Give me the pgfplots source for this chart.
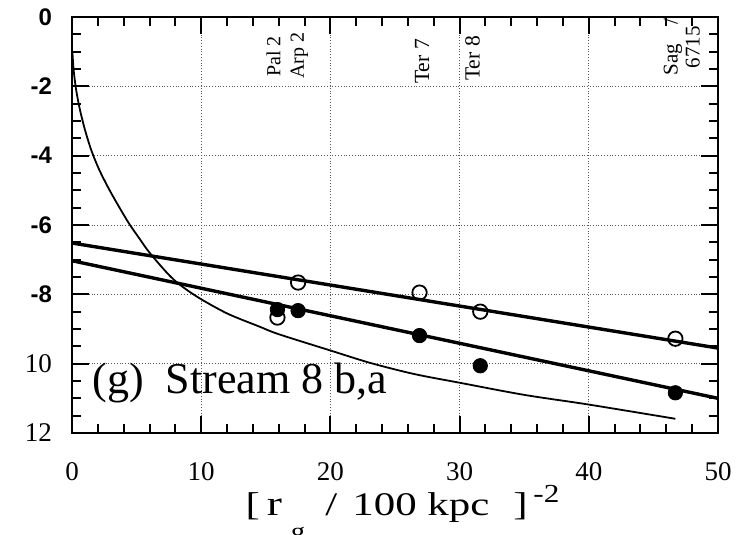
\documentclass[border=0pt]{standalone}
\usepackage{pgfplots}
\pgfplotsset{compat=1.18}
\usepackage{fontspec}
\setmainfont{Liberation Serif}
\newfontfamily\tickfont{Liberation Sans}
\newfontfamily\labfont{Liberation Serif}[FakeStretch=1.3]
\newfontfamily\supfont{Liberation Serif}[FakeStretch=1.2]
\newcommand{\sfb}[1]{{\tickfont\bfseries\fontsize{12}{12}\selectfont #1}}
\newcommand{\rmt}[1]{{\rmfamily\fontsize{13.5}{13.5}\selectfont #1}}
\begin{document}
\begin{tikzpicture}
\begin{axis}[
  scale only axis, width=323pt, height=208pt,
  xmin=0, xmax=50, ymin=-12, ymax=0,
  xtick={0,10,...,50}, minor x tick num=4,
  xticklabels={\rmt{0},\rmt{10},\rmt{20},\rmt{30},\rmt{40},\rmt{50}},
  ytick={-12,-10,...,0},
  yticklabels={\rmt{12},\rmt{10},\sfb{-8},\sfb{-6},\sfb{-4},\sfb{-2},\sfb{0}},
  minor y tick num=3,
  tick align=inside, major tick length=8.5pt, minor tick length=4.5pt,
  every tick/.style={black, line width=1pt},
  axis line style={line width=1.3pt},
  xtick pos=both, ytick pos=both,
  grid=major, major grid style={densely dotted, black!65, line width=0.45pt},
  /pgf/number format/assume math mode=true,
  xticklabel style={yshift=-11pt},
  yticklabel style={xshift=-6.5pt},
  clip=false,
]
\coordinate (sw) at (rel axis cs:0,0);
\coordinate (ne) at (rel axis cs:1,1);
% model curve
\addplot[black, line width=0.9pt, smooth] coordinates {
 (0.03,-1.0) (0.12,-1.5) (0.3,-2.05) (0.6,-2.65) (1.0,-3.25) (1.5,-3.85) (2.1,-4.4)
 (2.8,-4.92) (3.6,-5.45) (4.4,-5.95) (5.2,-6.38) (6.05,-6.82) (7.8,-7.55)
 (9.6,-8.05) (12,-8.55) (14.5,-8.93) (16,-9.15)
 (20,-9.62) (23.1,-9.98) (26.5,-10.3) (30,-10.55) (35,-10.9) (40,-11.18) (46.7,-11.59)
};
% fit lines
\addplot[black, line width=1.7pt] coordinates {(0,-6.52) (50,-9.55)};
\addplot[black, line width=1.7pt] coordinates {(0,-7.03) (50,-11.0)};
% filled points
\addplot[only marks, mark=*, mark size=3.6pt, black] coordinates {
 (15.9,-8.44) (17.5,-8.47) (26.9,-9.19) (31.6,-10.06) (46.7,-10.84)
};
% open points
\addplot[only marks, mark=o, mark size=3.6pt, black, line width=0.9pt,
  mark options={fill=white}] coordinates {
 (15.9,-8.67) (17.5,-7.66) (26.9,-7.95) (31.6,-8.5) (46.7,-9.28)
};
% cluster labels
\node[rotate=90, anchor=west, inner sep=0pt, font=\fontsize{10}{10}\selectfont] at (axis cs:15.6,-1.73) {Pal 2};
\node[rotate=90, anchor=west, inner sep=0pt, font=\fontsize{10}{10}\selectfont] at (axis cs:17.6,-1.79) {Arp 2};
\node[rotate=90, anchor=west, inner sep=0pt, font=\fontsize{10.8}{10.8}\selectfont] at (axis cs:27.1,-1.94) {Ter 7};
\node[rotate=90, anchor=west, inner sep=0pt, font=\fontsize{10.8}{10.8}\selectfont] at (axis cs:31.0,-1.85) {Ter 8};
\node[rotate=90, anchor=center, inner sep=0pt, align=center, font=\fontsize{10.5}{11}\selectfont] at (axis cs:47.2,-0.87) {Sag\hspace{0.9em}/\\6715};
% panel label
\node[anchor=west, inner sep=0pt, font=\fontsize{22}{22}\selectfont] at (axis cs:1.55,-10.55) {(g)\ \ Stream 8 b,a};
% axis label, set piece by piece
\node[anchor=base west, inner sep=0pt, font=\labfont\fontsize{16.5}{16.5}\selectfont] at ([yshift=-41pt]axis cs:13.4,-12) {[};
\node[anchor=base west, inner sep=0pt, font=\labfont\fontsize{17.5}{17.5}\selectfont] at ([yshift=-41pt]axis cs:15.05,-12) {r};
\node[anchor=base west, inner sep=0pt, font=\supfont\fontsize{12}{12}\selectfont] at ([yshift=-53pt]axis cs:16.9,-12) {g};
\node[anchor=base west, inner sep=0pt, font=\labfont\fontsize{16.5}{16.5}\selectfont] at ([yshift=-41pt]axis cs:19.58,-12) {/};
\node[anchor=base west, inner sep=0pt, font=\labfont\fontsize{16.5}{16.5}\selectfont] at ([yshift=-41pt]axis cs:21.67,-12) {100 kpc};
\node[anchor=base west, inner sep=0pt, font=\labfont\fontsize{16.5}{16.5}\selectfont] at ([yshift=-41pt]axis cs:34.13,-12) {]};
\node[anchor=base west, inner sep=0pt, font=\supfont\fontsize{13}{13}\selectfont] at ([yshift=-34.5pt]axis cs:35.68,-12) {-2};
\end{axis}
\pgfresetboundingbox
\path[use as bounding box] ([xshift=-36pt,yshift=-50.5pt]sw) rectangle ([xshift=17pt,yshift=8.5pt]ne);
\end{tikzpicture}
\end{document}
